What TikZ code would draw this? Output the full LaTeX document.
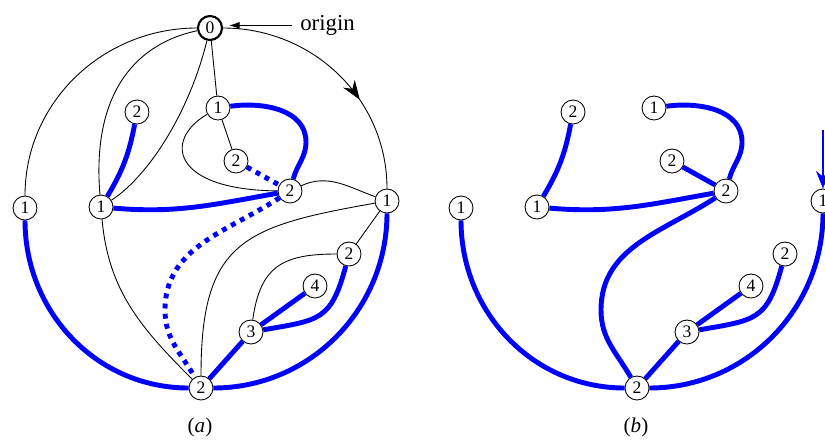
\documentclass[tikz,border=0pt]{standalone}
\usepackage{fontspec}
\setmainfont{Liberation Serif}
\usetikzlibrary{arrows.meta, decorations.markings}

\begin{document}
\begin{tikzpicture}[
    x=0.02cm, y=0.02cm,
    vertex/.style={circle, draw, fill=white, line width=0.5pt, minimum size=0.48cm, inner sep=0pt, font=\fontsize{10}{12}\selectfont},
    rootvertex/.style={vertex, line width=1.2pt},
    fine/.style={draw=black, line width=0.5pt},
    heavy/.style={draw=blue, line width=2.8pt},
    heavydot/.style={heavy, dash pattern=on 2.8pt off 3pt},
    caption/.style={font=\fontsize{12}{14}\selectfont}
]
\useasboundingbox (0,0) rectangle (825,-440);
\clip (0,0) rectangle (825,-440);

% (a)
\node[rootvertex] (O) at (210,-28) {0};
\node[vertex] (L1a) at (25,-208) {1};
\node[vertex] (T2a) at (137,-112) {2};
\node[vertex] (A1a) at (101,-207) {1};
\node[vertex] (B1a) at (218,-108) {1};
\node[vertex] (C2a) at (236,-161) {2};
\node[vertex] (D2a) at (290,-191) {2};
\node[vertex] (R1a) at (387,-201) {1};
\node[vertex] (E2a) at (349,-254) {2};
\node[vertex] (G4a) at (315,-286) {4};
\node[vertex] (H3a) at (251,-332) {3};
\node[vertex] (F2a) at (201,-388) {2};
\node[caption] (capa) at (200,-427) {(\textit{a})};
\node[anchor=base west, inner xsep=4.5pt, inner ysep=0pt, font=\fontsize{13}{15}\selectfont] (lbl) at (292,-30.5) {origin};
\draw[fine, -{Latex[length=6pt,width=4pt]}, shorten >=3.4pt] (lbl.west) -- (lbl.west -| O.east);

% outer circle
\draw[fine] (O) to[out=180,in=90] (L1a);
\draw[fine, postaction={decorate}, decoration={markings, mark=at position 0.63 with {\arrow{Stealth[length=11pt,width=8pt]}}}] (O) to[out=0,in=90] (R1a);
\draw[heavy] (L1a) to[out=-90,in=180] (F2a);
\draw[heavy] (F2a) to[out=0,in=-90] (R1a);

% black edges
\draw[fine] (O) .. controls (130,-45) and (92,-100) .. (A1a);
\draw[fine] (O) .. controls (190,-110) and (150,-175) .. (A1a);
\draw[fine] (O) -- (B1a);
\draw[fine] (B1a) -- (C2a);
\draw[fine] (B1a) .. controls (163,-140) and (172,-190) .. (D2a);
\draw[fine] (A1a) to[out=-85,in=135] (F2a);
\draw[fine] (D2a) to[out=25,in=160] (R1a);
\draw[fine] (R1a) to[out=190,in=90,looseness=1.4] (F2a);
\draw[fine] (R1a) -- (E2a);
\draw[fine] (E2a) to[out=180,in=82,looseness=1.3] (H3a);

% blue edges
\draw[heavy] (A1a) to[bend right=10] (T2a);
\draw[heavy] (A1a) to[out=-5,in=190] (D2a);
\draw[heavy] (B1a) to[out=8,in=90] (306,-142) to[out=-90,in=75] (D2a);
\draw[heavydot] (C2a) -- (D2a);
\draw[heavydot] (D2a) to[out=213,in=90] (165,-310) to[out=-90,in=120] (F2a);
\draw[heavy] (F2a) -- (H3a);
\draw[heavy] (H3a) -- (G4a);
\draw[heavy] (E2a) to[out=-105,in=10,looseness=1.4] (H3a);

% (b)
\begin{scope}[shift={(436,0)}]
\node[vertex] (L1b) at (25,-208) {1};
\node[vertex] (T2b) at (137,-112) {2};
\node[vertex] (A1b) at (101,-207) {1};
\node[vertex] (B1b) at (218,-108) {1};
\node[vertex] (C2b) at (236,-161) {2};
\node[vertex] (D2b) at (290,-191) {2};
\node[vertex] (R1b) at (387,-201) {1};
\node[vertex] (E2b) at (349,-254) {2};
\node[vertex] (G4b) at (315,-286) {4};
\node[vertex] (H3b) at (251,-332) {3};
\node[vertex] (F2b) at (201,-388) {2};
\node[caption] (capb) at (200,-427) {(\textit{b})};
\coordinate (drop) at (387,-130);

\draw[heavy] (L1b) to[out=-90,in=180] (F2b);
\draw[heavy] (F2b) to[out=0,in=-90] (R1b);
\draw[heavy] (A1b) to[bend right=10] (T2b);
\draw[heavy] (A1b) to[out=-5,in=190] (D2b);
\draw[heavy] (B1b) to[out=8,in=90] (306,-142) to[out=-90,in=75] (D2b);
\draw[heavy] (C2b) -- (D2b);
\draw[heavy] (D2b) to[out=213,in=90] (165,-310) to[out=-90,in=120] (F2b);
\draw[heavy] (F2b) -- (H3b);
\draw[heavy] (H3b) -- (G4b);
\draw[heavy] (E2b) to[out=-105,in=10,looseness=1.4] (H3b);
\draw[blue, line width=0.6pt, -{Stealth[length=10pt,width=8pt]}] (drop) -- (R1b);
\end{scope}
\end{tikzpicture}
\end{document}
